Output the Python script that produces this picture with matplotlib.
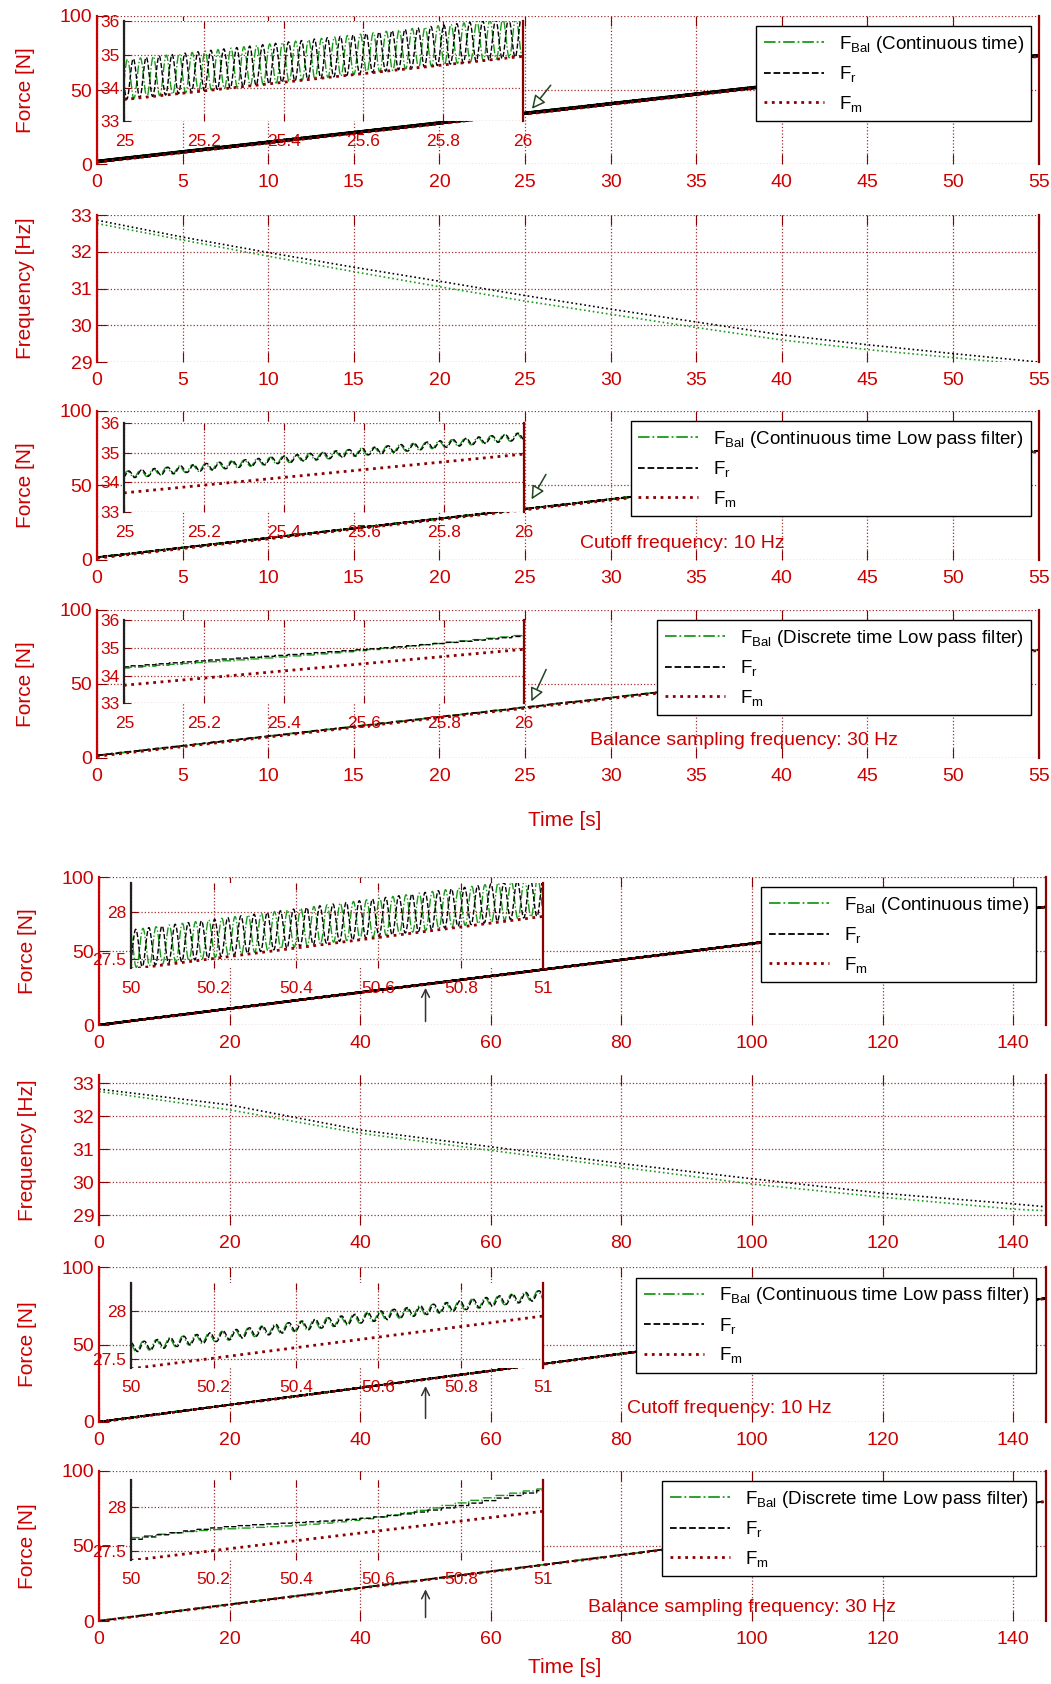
import numpy as np
import matplotlib
matplotlib.use('Agg')
import matplotlib.pyplot as plt

plt.rcParams['font.family'] = ['Liberation Sans Narrow', 'Liberation Sans', 'DejaVu Sans']
plt.rcParams['mathtext.fontset'] = 'custom'
plt.rcParams['mathtext.rm'] = 'Liberation Sans'
plt.rcParams['mathtext.it'] = 'Liberation Sans:italic'

RED = '#cc0000'
DRED = '#8b0000'
GREEN = '#1a9a1a'

# ---- values ----
# frequency curves (top group, 0-55 s)
freq_t_top = [0, 5, 10, 15, 20, 25, 30, 35, 40, 45, 50, 55]
freq_blk_top = [32.86, 32.40, 31.98, 31.58, 31.20, 30.81, 30.44, 30.09, 29.74, 29.47, 29.23, 29.00]
freq_grn_top = [32.77, 32.32, 31.88, 31.46, 31.05, 30.66, 30.30, 29.94, 29.60, 29.34, 29.12, 28.90]
# frequency curves (bottom group, 0-145 s)
freq_t_bot = [0, 20, 40, 60, 80, 100, 120, 140, 145]
freq_blk_bot = [32.82, 32.34, 31.58, 31.07, 30.56, 30.10, 29.66, 29.34, 29.25]
freq_grn_bot = [32.75, 32.19, 31.48, 30.96, 30.45, 29.94, 29.54, 29.18, 29.13]

# F_m straight line: value at start and end of the run [N]
fm_t_top = [0, 55]
fm_v_top = [1.15, 72.65]
fm_t_bot = [0, 145]
fm_v_bot = [-0.1, 79.65]

# oscillation: offset above F_m, amplitude, F_r phase lag (cycles)
osc_top = {'raw': (0.6, 0.6, 0.45), 'lpf': (0.6, 0.12, 0.1), 'dlpf': (0.6, 0.10, 0.1)}
osc_bot = {'raw': (0.21, 0.20, 0.45), 'lpf': (0.22, 0.05, 0.1), 'dlpf': (0.21, 0.05, 0.1)}
fs_balance = 30.0

legend_titles = ['(Continuous time)', '(Continuous time Low pass filter)',
                 '(Discrete time Low pass filter)']
notes = [None, 'Cutoff frequency: 10 Hz', 'Balance sampling frequency: 30 Hz']


def make_signals(t_end, freq_t, freq_v, fm_t, fm_v, osc, kind):
    t = np.arange(0, t_end, 0.001)
    f = np.interp(t, freq_t, freq_v)
    ph = 2 * np.pi * np.cumsum(f) * 0.001
    fm = np.interp(t, fm_t, fm_v)
    off, amp, lag = osc[kind]
    bal = fm + off + amp * np.sin(ph)
    fr = fm + off + amp * np.sin(ph - 2 * np.pi * lag)
    if kind == 'dlpf':
        n = int(round(1000 / fs_balance))
        idx = (np.arange(len(t)) // n) * n
        bal = bal[idx]
        fr = fr[idx]
    return t, bal, fr, fm


def style(ax):
    ax.spines['top'].set_visible(False)
    ax.spines['bottom'].set_visible(False)
    ax.spines['left'].set_color(RED)
    ax.spines['right'].set_color(DRED)
    ax.spines['left'].set_linewidth(1.6)
    ax.spines['right'].set_linewidth(1.6)
    ax.tick_params(direction='in', top=True, right=False, length=7, color=DRED,
                   labelcolor=RED, labelsize=14)
    ax.tick_params(axis='x', pad=7)
    ax.grid(True, linestyle=':', color='#a03030', linewidth=0.9)


fig = plt.figure(figsize=(10.51, 16.84), dpi=100)

top_left, top_w = 0.0923, 0.896
bot_left, bot_w = 0.0942, 0.901
rows_top = [(0.9026, 0.0879), (0.785, 0.0873), (0.6675, 0.0885), (0.5499, 0.0879)]
rows_bot = [(0.3913, 0.0879), (0.2726, 0.0891), (0.1556, 0.092), (0.0374, 0.0891)]

groups = [
    dict(left=top_left, w=top_w, rows=rows_top, t_end=55, xt=np.arange(0, 56, 5), xlim=(0, 55),
         freq=(freq_t_top, freq_blk_top, freq_grn_top), fylim=(29, 33),
         fm=(fm_t_top, fm_v_top), osc=osc_top,
         ins_rect=[[0.029, 0.29, 0.423, 0.673], [0.029, 0.32, 0.424, 0.60], [0.029, 0.37, 0.424, 0.56]],
         ins_xlim=(25, 26), ins_ylim=(33, 36), ins_xt=[25, 25.2, 25.4, 25.6, 25.8, 26],
         ins_yt=[33, 34, 35, 36], ins_xl=['25', '25.2', '25.4', '25.6', '25.8', '26'],
         ins_yl=['33', '34', '35', '36'],
         arrows=[((25.3, 35.8), (26.6, 54.7)), ((25.3, 39), (26.3, 59)), ((25.3, 36.5), (26.3, 61.5))],
         notes_xy=[None, (34.2, 10.7), (37.8, 11.5)],
         leg_anchor=(0.992, 0.93)),
    dict(left=bot_left, w=bot_w, rows=rows_bot, t_end=145, xt=np.arange(0, 141, 20), xlim=(0, 145),
         freq=(freq_t_bot, freq_blk_bot, freq_grn_bot), fylim=(28.7, 33.25),
         fm=(fm_t_bot, fm_v_bot), osc=osc_bot,
         ins_rect=[[0.034, 0.385, 0.435, 0.575], [0.034, 0.35, 0.435, 0.55], [0.034, 0.41, 0.435, 0.53]],
         ins_xlim=(50, 51), ins_ylim=(27.41, 28.3), ins_xt=[50, 50.2, 50.4, 50.6, 50.8, 51],
         ins_yt=[27.5, 28], ins_xl=['50', '50.2', '50.4', '50.6', '50.8', '51'],
         ins_yl=['27.5', '28'],
         arrows=[((50, 27), (50, 0.5)), ((50, 25), (50, 0.5)), ((50, 23), (50, 0.5))],
         notes_xy=[None, (96.5, 8.4), (98.4, 9.3)],
         leg_anchor=(0.99, 0.93)),
]

for g in groups:
    kinds = ['raw', None, 'lpf', 'dlpf']
    k = 0
    for i, (b, h) in enumerate(g['rows']):
        ax = fig.add_axes([g['left'], b, g['w'], h])
        style(ax)
        ax.set_xlim(*g['xlim'])
        ax.set_xticks(g['xt'])
        if kinds[i] is None:
            ft, fb, fgr = g['freq']
            ax.plot(ft, fb, ':', color='black', lw=1.2)
            ax.plot(ft, fgr, ':', color=GREEN, lw=1.2)
            ax.set_ylim(*g['fylim'])
            ax.set_yticks([29, 30, 31, 32, 33])
            ax.set_ylabel('Frequency [Hz]', color=RED, fontsize=15)
            ax.yaxis.set_label_coords(-0.066, 0.5)
            continue
        t, bal, fr, fm = make_signals(g['t_end'], g['freq'][0], g['freq'][1],
                                      g['fm'][0], g['fm'][1], g['osc'], kinds[i])
        lab = r'$\mathrm{F}_{\mathrm{Bal}}$ ' + legend_titles[k]
        ax.plot(t, bal, '-.', color=GREEN, lw=1.3, label=lab)
        ax.plot(t, fr, '--', color='black', lw=1.3, label=r'$\mathrm{F}_{\mathrm{r}}$')
        ax.plot(t, fm, ':', color=DRED, lw=2.0, label=r'$\mathrm{F}_{\mathrm{m}}$')
        ax.set_ylim(0, 100)
        ax.set_yticks([0, 50, 100])
        ax.set_ylabel('Force [N]', color=RED, fontsize=15)
        ax.yaxis.set_label_coords(-0.066, 0.5)
        ax.legend(loc='upper right', bbox_to_anchor=g['leg_anchor'], borderaxespad=0,
                  fontsize=13.5, handlelength=3.2, labelspacing=0.5, fancybox=False,
                  edgecolor='black', framealpha=1)

        ins = ax.inset_axes(g['ins_rect'][k])
        ins.plot(t, bal, '-.', color=GREEN, lw=1.0)
        ins.plot(t, fr, '--', color='black', lw=1.0)
        ins.plot(t, fm, ':', color=DRED, lw=2.0)
        ins.set_xlim(*g['ins_xlim'])
        ins.set_ylim(*g['ins_ylim'])
        ins.set_xticks(g['ins_xt'])
        ins.set_xticklabels(g['ins_xl'])
        ins.set_yticks(g['ins_yt'])
        ins.set_yticklabels(g['ins_yl'])
        style(ins)
        ins.spines['left'].set_color('#202020')
        ins.tick_params(labelsize=12.5, length=5)
        ins.tick_params(axis='x', pad=9)

        (hx, hy), (tx, ty) = g['arrows'][k]
        if g is groups[0]:
            ax.annotate('', xy=(hx, hy), xytext=(tx, ty),
                        arrowprops=dict(arrowstyle='-|>', fc='white', ec='#224422',
                                        lw=1.1, mutation_scale=20))
        else:
            ax.annotate('', xy=(hx, hy), xytext=(tx, ty),
                        arrowprops=dict(arrowstyle='->', color='#333333', lw=1.1,
                                        mutation_scale=14))
        if notes[k] is not None:
            nx, ny = g['notes_xy'][k]
            ax.text(nx, ny, notes[k], color=RED, fontsize=14, ha='center', va='center')
        k += 1

fig.text(0.537, 0.5125, 'Time [s]', ha='center', va='center', fontsize=15, color=RED)
fig.text(0.537, 0.010, 'Time [s]', ha='center', va='center', fontsize=15, color=RED)

fig.savefig('out.png', dpi=100)
